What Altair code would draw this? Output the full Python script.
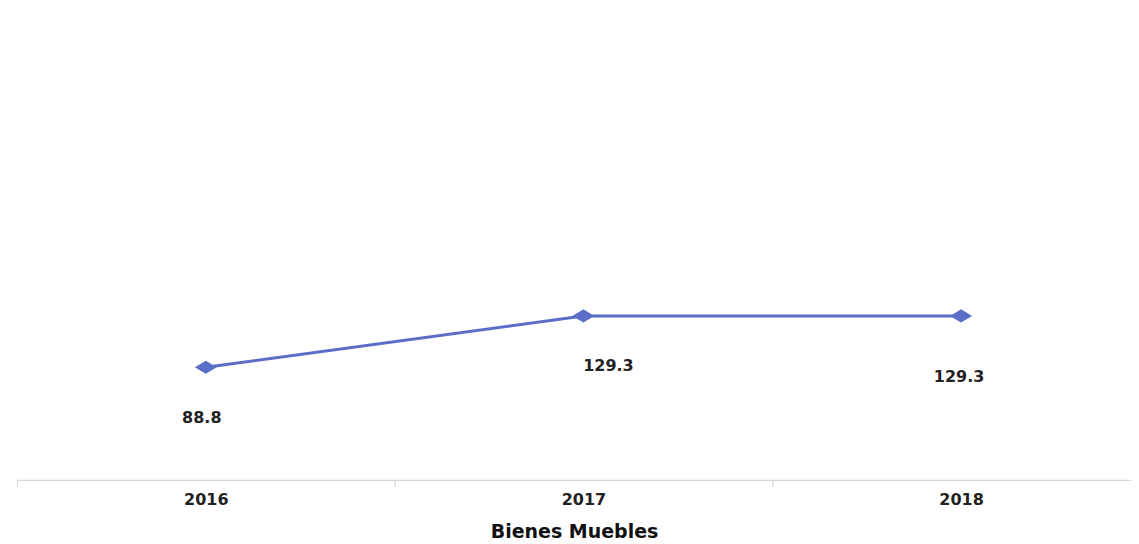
import altair as alt
import pandas as pd

years = [2016, 2017, 2018]
values = [88.8, 129.3, 129.3]
labels = ["88.8", "129.3", "129.3"]
tick_bounds = [2015.5, 2016.5, 2017.5, 2018.5]

df = pd.DataFrame({"year": years, "value": values, "label": labels})

COLOR = "#5a6ec8"
FONT = "DejaVu Sans"
XDOM = [2015.5, 2018.45]

xs = alt.Scale(domain=XDOM, nice=False, zero=False)
y = alt.Y("value:Q", scale=alt.Scale(domain=[0, 372], nice=False, zero=True), axis=None)

x_plain = alt.X("year:Q", scale=xs, axis=None)

# axis carrying the boundary ticks and the domain line
x_ticks = alt.X("year:Q", scale=xs,
                axis=alt.Axis(orient="bottom", values=tick_bounds, labels=False, title=None, grid=False,
                              domainColor="#d0d0d0", tickColor="#d0d0d0", tickSize=6))
# axis carrying the labels and the title
x_labels = alt.X("year:Q", scale=xs,
                 axis=alt.Axis(orient="bottom", values=years, format="d", ticks=False, domain=False,
                               grid=False, title="Bienes Muebles", labelAngle=0,
                               labelFont=FONT, labelFontSize=16, labelFontWeight="bold",
                               labelColor="#222222", labelPadding=12,
                               titleFont=FONT, titleFontSize=19, titleFontWeight="bold",
                               titleColor="#111111", titlePadding=15))

base = alt.Chart(df)

line = base.mark_line(color=COLOR, strokeWidth=3).encode(x=x_ticks, y=y)
pts = base.mark_point(shape="M-1,0L0,-0.6L1,0L0,0.6Z", size=484, filled=True,
                      color=COLOR, opacity=1).encode(x=x_labels, y=y)

def lab(yr, dx, dy):
    return base.transform_filter(alt.datum.year == yr).mark_text(
        font=FONT, fontSize=16, fontWeight="bold", color="#222222", dx=dx, dy=dy
    ).encode(x=x_plain, y=y, text="label:N")

chart = alt.layer(line, pts, lab(2016, -4, 51), lab(2017, 25, 50), lab(2018, -2, 61)).resolve_axis(
    x="independent"
).properties(
    width=1115, height=472, background="white",
    padding={"left": 8, "right": 0, "top": 0, "bottom": 0}
).configure_view(strokeWidth=0)

chart.save("out.html", embed_options={"renderer": "svg", "actions": False})
